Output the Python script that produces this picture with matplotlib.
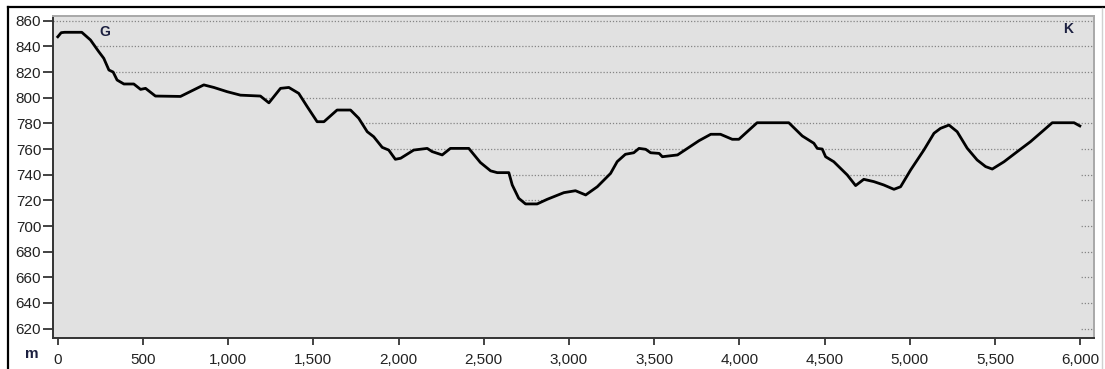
import matplotlib
matplotlib.use("Agg")
import matplotlib.pyplot as plt
from matplotlib.lines import Line2D

# distance along route (m) and elevation (m)
distance = [0, 20, 40, 141, 192, 240, 270, 300, 325, 348, 388, 446, 486, 515, 573, 720,
            857, 916, 994, 1072, 1189, 1239, 1307, 1356, 1414, 1464, 1522, 1562, 1639,
            1718, 1766, 1816, 1854, 1904, 1942, 1981, 2012, 2089, 2168, 2197, 2256, 2304,
            2412, 2480, 2540, 2579, 2647, 2667, 2705, 2745, 2813, 2872, 2970, 3038, 3098,
            3166, 3244, 3283, 3331, 3380, 3411, 3450, 3479, 3529, 3548, 3637, 3695, 3763,
            3832, 3889, 3958, 3997, 4104, 4290, 4369, 4437, 4457, 4486, 4506, 4554, 4633,
            4682, 4730, 4789, 4847, 4907, 4946, 5005, 5044, 5083, 5142, 5180, 5230, 5278,
            5337, 5395, 5445, 5484, 5553, 5630, 5708, 5787, 5836, 5964, 5998]
elevation = [847.5, 850.7, 851, 851, 845, 836, 830.7, 821.6, 820, 813.8, 810.7, 810.7,
             806.5, 807.3, 801.3, 801, 810, 808, 804.7, 802, 801.3, 796, 807.3, 808,
             803.4, 793, 781.3, 781.3, 790.4, 790.4, 784, 773.5, 769.6, 761.3, 759.2,
             752, 752.8, 759.2, 760.5, 758, 755.4, 760.5, 760.5, 749.5, 743, 741.6,
             741.6, 732, 721.6, 717.2, 717.2, 720.8, 726, 727.5, 724.2, 730.6, 741,
             750.2, 755.9, 757.1, 760.5, 759.8, 757.1, 756.6, 754, 755.4, 760.5, 766.5,
             771.5, 771.5, 767.6, 767.6, 780.5, 780.5, 770.2, 764.5, 760.5, 760, 754,
             750.1, 739.8, 731.5, 736.4, 734.6, 732, 728.6, 730.6, 743.7, 751.5, 759.3,
             772.3, 776.1, 778.7, 773.5, 760.6, 751.5, 746.3, 744.4, 750.1, 757.9,
             765.7, 774.8, 780.5, 780.5, 778]

y_ticks = list(range(620, 861, 20))
x_ticks = list(range(0, 6001, 500))
x_tick_labels = [f"{v:,}" for v in x_ticks]
start_label, end_label = "G", "K"
x_unit = "m"

BG = "#e1e1e1"
W, H = 1105, 369
fig = plt.figure(figsize=(W / 100, H / 100), dpi=100)
fig.patch.set_facecolor("white")
ax = fig.add_axes([53 / W, 31 / H, (1094 - 53) / W, (338 - 16) / H])
ax.set_facecolor(BG)

xmin, xmax = -28, 6081
ymin, ymax = 612.7, 863.7
ax.set_xlim(xmin, xmax)
ax.set_ylim(ymin, ymax)

for yv in y_ticks:
    ax.axhline(yv, color="#858585", lw=0.9, ls=(0, (1, 1.5)), zorder=1)

fill_x = [xmin] + distance
fill_y = [elevation[0]] + elevation
ax.fill_between(fill_x, fill_y, ymin, color=BG, zorder=2, lw=0)
ax.plot(distance, elevation, color="black", lw=2.0, zorder=3, solid_joinstyle="round")

ax.set_yticks(y_ticks)
ax.set_xticks(x_ticks)
ax.set_xticklabels(x_tick_labels)

for lab in ax.get_xticklabels() + ax.get_yticklabels():
    lab.set_fontfamily("Liberation Sans")
    lab.set_fontsize(11)
    lab.set_color("#222222")
ax.tick_params(axis="y", direction="out", length=7, width=1.2, pad=1.5, color="#222222")
ax.tick_params(axis="x", direction="out", length=5, width=1.2, pad=6, color="#222222")

for side in ("left", "bottom"):
    ax.spines[side].set_color("#333333")
    ax.spines[side].set_linewidth(1.4)
for side in ("top", "right"):
    ax.spines[side].set_color("#a8a8a8")
    ax.spines[side].set_linewidth(1.4)

fig.text(105 / W, 1 - 31.7 / H, start_label, ha="center", va="center",
         fontsize=10, fontweight="bold", color="#1c2040", family="Liberation Sans")
fig.text(1068 / W, 1 - 29 / H, end_label, ha="center", va="center",
         fontsize=10, fontweight="bold", color="#1c2040", family="Liberation Sans")
fig.text(32 / W, 1 - 354 / H, x_unit, ha="center", va="center",
         fontsize=11, fontweight="bold", color="#1c2040", family="Liberation Sans")

# outer frame (left and top dark, right light)
fig.add_artist(Line2D([7.5 / W, 7.5 / W], [0, 1 - 7 / H], color="black", lw=1.6,
                      transform=fig.transFigure))
fig.add_artist(Line2D([7.5 / W, 1], [1 - 7 / H, 1 - 7 / H], color="black", lw=1.6,
                      transform=fig.transFigure))
fig.add_artist(Line2D([1102 / W, 1102 / W], [0, 1 - 8 / H], color="#d0d0d0", lw=1.0,
                      transform=fig.transFigure))

fig.savefig("out.png", dpi=100, facecolor="white")
